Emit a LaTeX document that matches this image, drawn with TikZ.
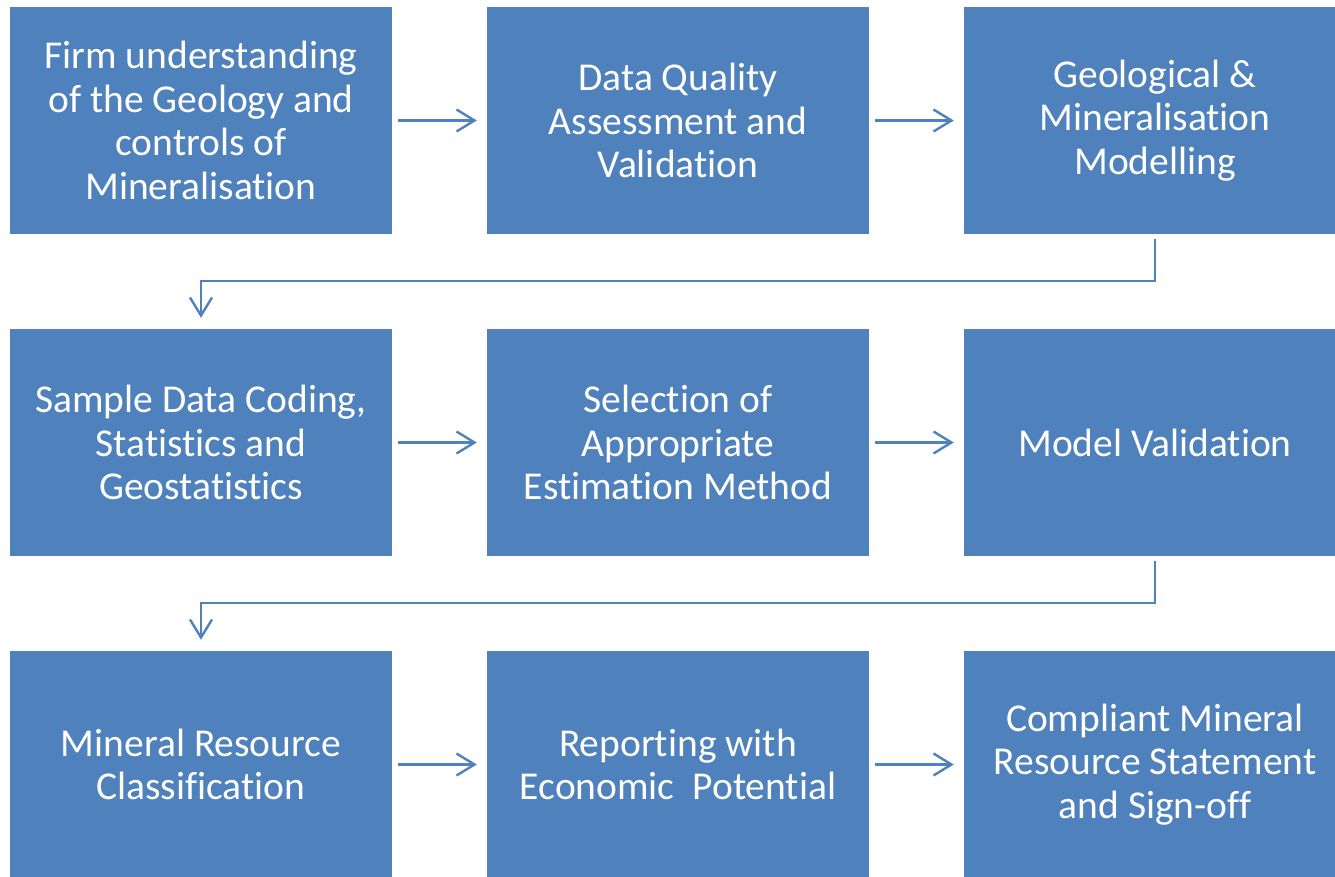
\documentclass[tikz,border=0pt]{standalone}
\usepackage{fontspec}
\setmainfont[Ligatures={NoCommon}]{Carlito}
\usetikzlibrary{arrows.meta}
\definecolor{boxblue}{HTML}{4F81BD}
\begin{document}
\begin{tikzpicture}[x=1pt,y=-1pt,
  stepbox/.style={fill=boxblue,draw=none,minimum width=382pt,minimum height=227pt,
    text=white,align=center,inner sep=0pt,font=\fontsize{39.5}{43.5}\selectfont},
  conn/.style={draw=boxblue,line width=2.4pt,-{Straight Barb[length=18pt,width=22pt,line width=2.4pt]}}]
\useasboundingbox (0,0) rectangle (1335,876);
\clip (0,0) rectangle (1335,876);
% row 1
\node[stepbox] (a1) at (201,120.5) {Firm understanding\\of the Geology and\\controls of\\Mineralisation};
\node[stepbox] (a2) at (678,120.5) {Data Quality\\Assessment and\\Validation};
\node[stepbox] (a3) at (1155,120.5) {Geological \&\\Mineralisation\\Modelling};
% row 2
\node[stepbox] (b1) at (201,442.5) {Sample Data Coding,\\Statistics and\\Geostatistics};
\node[stepbox] (b2) at (678,442.5) {Selection of\\Appropriate\\Estimation Method};
\node[stepbox] (b3) at (1155,442.5) {Model Validation};
% row 3
\node[stepbox] (c1) at (201,764.5) {Mineral Resource\\Classification};
\node[stepbox] (c2) at (678,764.5) {Reporting with\\Economic\ \ Potential};
\node[stepbox] (c3) at (1155,764.5) {Compliant Mineral\\Resource Statement\\and Sign-off};
% horizontal arrows
\draw[conn] ([xshift=6pt]a1.east) -- ([xshift=-10pt]a2.west);
\draw[conn] ([xshift=6pt]a2.east) -- ([xshift=-10pt]a3.west);
\draw[conn] ([xshift=6pt]b1.east) -- ([xshift=-10pt]b2.west);
\draw[conn] ([xshift=6pt]b2.east) -- ([xshift=-10pt]b3.west);
\draw[conn] ([xshift=6pt]c1.east) -- ([xshift=-10pt]c2.west);
\draw[conn] ([xshift=6pt]c2.east) -- ([xshift=-10pt]c3.west);
% return connectors
\draw[conn] ([yshift=-5pt]a3.south) -- ++(0,42) -| ([yshift=11pt]b1.north);
\draw[conn] ([yshift=-5pt]b3.south) -- ++(0,42) -| ([yshift=11pt]c1.north);
\end{tikzpicture}
\end{document}
